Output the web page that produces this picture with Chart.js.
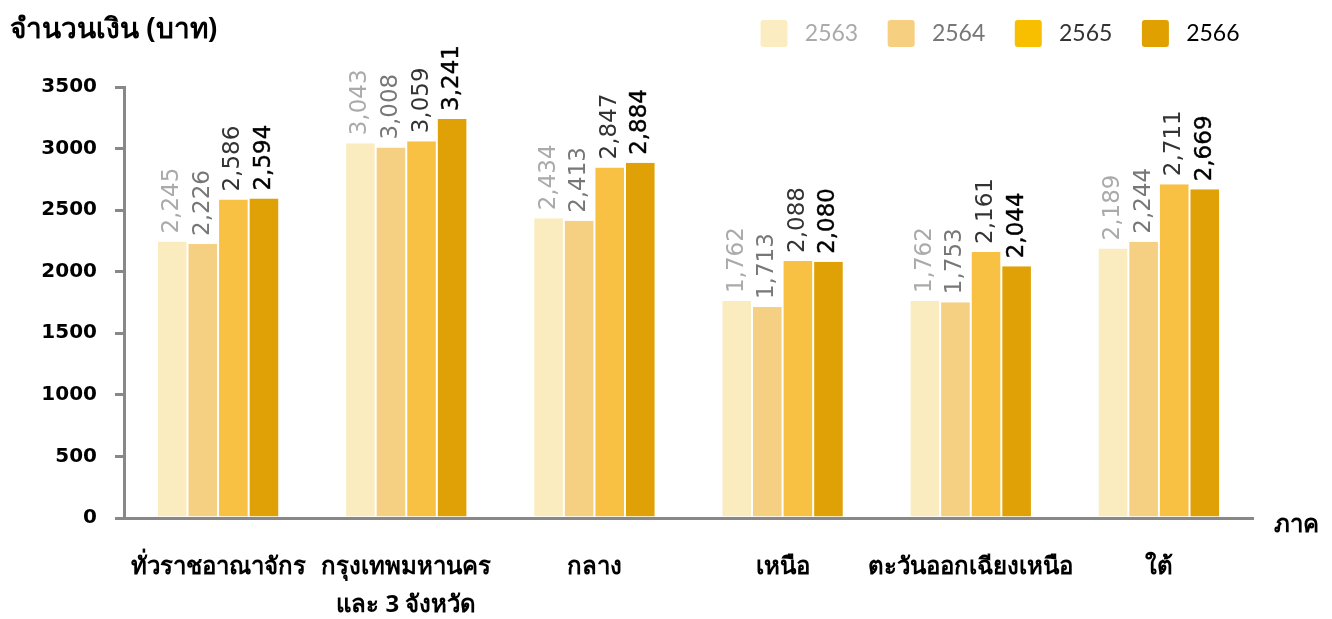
<!DOCTYPE html>
<html>
<head>
<meta charset="utf-8">
<script src="https://cdn.jsdelivr.net/npm/chart.js@4.4.1/dist/chart.umd.min.js"></script>
<style>
	html, body { margin: 0; padding: 0; background: #fff; }
	#wrap { width: 1332px; height: 619px; }
</style>
</head>
<body>
<div id="wrap"><canvas id="c" width="1332" height="619"></canvas></div>
<script>
// data
var regions = ['ทั่วราชอาณาจักร', ['กรุงเทพมหานคร', 'และ 3 จังหวัด'], 'กลาง', 'เหนือ', 'ตะวันออกเฉียงเหนือ', 'ใต้'];
var years = ['2563', '2564', '2565', '2566'];
var v2563 = [2245, 3043, 2434, 1762, 1762, 2189];
var v2564 = [2226, 3008, 2413, 1713, 1753, 2244];
var v2565 = [2586, 3059, 2847, 2088, 2161, 2711];
var v2566 = [2594, 3241, 2884, 2080, 2044, 2669];
var yTicks = [0, 500, 1000, 1500, 2000, 2500, 3000, 3500];

var barColors = ['#FBECC0', '#F5CF82', '#F9C143', '#E0A106'];
var legendColors = ['#FBEDC1', '#F6CF80', '#F8BE00', '#E0A000'];
var textColors = ['#aaaaaa', '#777777', '#333333', '#000000'];
var FONT = "'Noto Sans', 'DejaVu Sans', sans-serif";
var NUMFONT = "'DejaVu Sans', sans-serif";

function fmt(n) {
	return n.toLocaleString('en-US');
}

// rotated value labels above the bars + the two axis captions
var labelsPlugin = {
	id: 'valueLabels',
	afterDatasetsDraw: function(chart) {
		var ctx = chart.ctx;
		ctx.save();
		ctx.textAlign = 'left';
		ctx.textBaseline = 'middle';
		ctx.font = "23px " + NUMFONT;
		chart.data.datasets.forEach(function(ds, i) {
			var meta = chart.getDatasetMeta(i);
			meta.data.forEach(function(bar, j) {
				ctx.save();
				ctx.translate(bar.x, bar.y - 8);
				ctx.rotate(-Math.PI / 2);
				ctx.fillStyle = textColors[i];
				ctx.fillText(fmt(ds.data[j]), 0, 0);
				if (i === 3) {
					// last year is a touch heavier in the original
					ctx.strokeStyle = textColors[i];
					ctx.lineWidth = 0.4;
					ctx.strokeText(fmt(ds.data[j]), 0, 0);
				}
				ctx.restore();
			});
		});
		// axis captions
		ctx.fillStyle = '#000';
		ctx.font = "bold 28px " + FONT;
		ctx.textBaseline = 'middle';
		ctx.fillText('จำนวนเงิน (บาท)', 10, 30);
		ctx.font = "bold 24px " + FONT;
		ctx.fillText('ภาค', 1274, 525);
		ctx.restore();
	}
};

var datasets = [v2563, v2564, v2565, v2566].map(function(vals, i) {
	return {
		label: years[i],
		data: vals,
		backgroundColor: barColors[i],
		borderColor: '#ffffff',
		borderWidth: {left: 1, right: 1, top: 0, bottom: 0},
		borderSkipped: false,
		categoryPercentage: 0.65,
		barPercentage: 1.0
	};
});

var chart = new Chart(document.getElementById('c'), {
	type: 'bar',
	data: { labels: regions, datasets: datasets },
	plugins: [labelsPlugin],
	options: {
		responsive: false,
		animation: false,
		devicePixelRatio: 1,
		layout: { padding: { left: 0, right: 63, top: 2, bottom: 0 } },
		plugins: {
			tooltip: { enabled: false },
			// empty title used only as a spacer between legend and plot
			title: { display: true, text: '', weight: 500, font: { size: 2, lineHeight: 1 }, padding: 14 },
			legend: {
				position: 'top',
				align: 'end',
				labels: {
					boxWidth: 27,
					boxHeight: 27,
					padding: 18,
					font: { family: "Lato, " + FONT, size: 23 },
					useBorderRadius: true,
					generateLabels: function(ch) {
						return years.map(function(y, i) {
							return {
								text: '\u2005' + y + '\u2002',
								fillStyle: legendColors[i],
								strokeStyle: legendColors[i],
								lineWidth: 0,
								fontColor: textColors[i],
								borderRadius: 3,
								datasetIndex: i,
								hidden: false
							};
						});
					}
				}
			}
		},
		scales: {
			x: {
				afterFit: function(scale) {
					scale.height = 101;
				},
				grid: { display: false, drawTicks: false },
				border: { display: true, color: '#888888', width: 3 },
				ticks: {
					color: '#000',
					padding: 30,
					maxRotation: 0,
					autoSkip: false,
					font: { family: FONT, size: 24, weight: 'bold', lineHeight: 1.6 }
				}
			},
			y: {
				min: 0,
				max: 3500,
				afterBuildTicks: function(scale) {
					scale.ticks = yTicks.map(function(v) { return { value: v }; });
				},
				afterFit: function(scale) {
					scale.width = 124;
				},
				grid: {
					display: true,
					drawOnChartArea: false,
					drawTicks: true,
					tickLength: 9,
					color: '#888888',
					lineWidth: 3
				},
				border: { display: true, color: '#888888', width: 3 },
				ticks: {
					color: '#000',
					padding: 18,
					font: { family: NUMFONT, size: 20, weight: 'bold' },
					callback: function(v) { return String(v); }
				}
			},
			// empty right-hand axis, only to keep the plot clear of the "ภาค" caption
			yPad: {
				position: 'right',
				display: true,
				afterFit: function(scale) {
					scale.width = 16;
				},
				grid: { display: false, drawTicks: false },
				border: { display: false },
				ticks: { display: false }
			}
		}
	}
});
</script>
</body>
</html>
